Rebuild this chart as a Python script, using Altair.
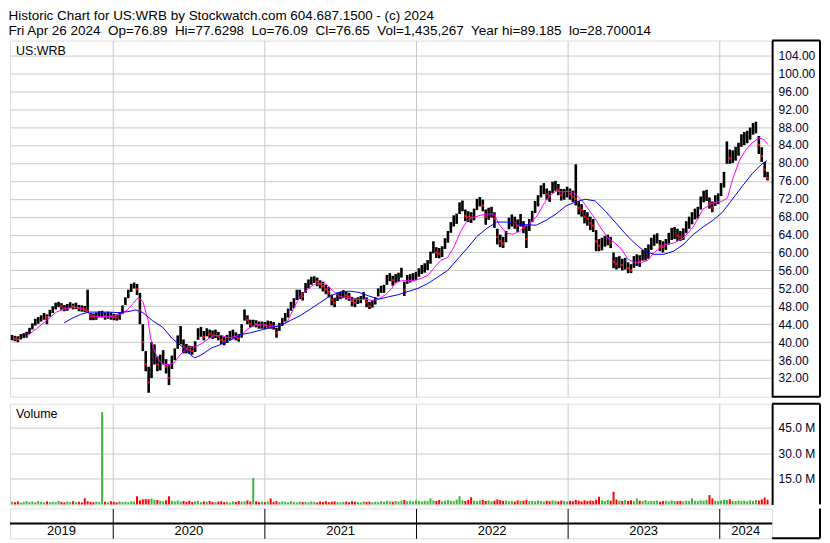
import altair as alt
import pandas as pd
import numpy as np

# ---------------- data ----------------
first_week = "2019-05-03"          # weekly bars, Fridays
x_start = (2019, 4, 28)
x_end = (2024, 5, 7)

closes = [
    41.0, 40.8, 40.6, 41.2, 41.5, 41.5, 42.5, 43.5, 44.5, 44.8,
    45.3, 45.8, 45.5, 46.5, 47.2, 48.2, 48.5, 48.0, 47.6, 47.8,
    48.3, 48.0, 48.2, 47.6, 47.5, 47.4, 47.0, 45.7, 45.6, 45.8,
    46.2, 46.3, 45.8, 46.0, 45.8, 45.6, 45.5, 45.8, 47.3, 49.2,
    50.8, 52.2, 53.0, 51.8, 47.0, 40.0, 35.0, 31.0, 36.0, 37.5,
    35.0, 35.5, 36.5, 34.5, 32.0, 35.5, 37.5, 40.0, 41.5, 39.0,
    38.5, 38.2, 38.0, 39.0, 41.8, 42.3, 41.2, 42.3, 41.8, 41.5,
    41.8, 41.3, 40.5, 40.2, 40.6, 41.5, 41.8, 41.2, 40.8, 43.0,
    46.0, 45.0, 44.0, 44.2, 44.0, 43.8, 43.8, 43.7, 44.0, 43.8,
    43.6, 42.0, 43.5, 44.5, 45.5, 46.5, 48.0, 48.8, 50.5, 50.8,
    50.2, 52.0, 53.0, 53.8, 54.2, 53.5, 53.0, 52.5, 51.8, 51.2,
    49.5, 48.8, 50.2, 50.5, 50.8, 50.4, 50.2, 49.2, 48.8, 49.3,
    49.5, 50.5, 49.0, 48.0, 48.5, 49.2, 51.0, 51.8, 51.8, 54.0,
    54.6, 53.8, 54.2, 54.5, 55.6, 51.5, 54.0, 54.3, 54.5, 54.8,
    55.5, 56.2, 56.5, 57.2, 59.0, 61.5, 60.0, 59.8, 60.2, 62.0,
    63.5, 65.5, 67.0, 67.5, 70.0, 70.5, 68.2, 68.0, 67.8, 68.5,
    70.8, 71.5, 70.5, 68.0, 68.5, 69.0, 67.5, 63.5, 62.5, 62.0,
    63.5, 66.5, 67.0, 66.5, 66.0, 67.0, 65.5, 63.0, 66.0, 68.0,
    70.0, 71.5, 73.5, 74.2, 73.0, 72.5, 74.5, 75.0, 74.0, 72.8,
    73.0, 73.5, 73.0, 72.5, 72.0, 70.0, 69.5, 68.0, 67.5, 66.5,
    66.0, 62.5, 61.5, 61.8, 62.5, 62.8, 62.2, 58.0, 57.5, 57.8,
    57.2, 57.5, 56.5, 56.0, 57.8, 58.2, 58.0, 59.5, 59.6, 60.0,
    62.0, 62.8, 63.2, 61.5, 61.2, 61.8, 63.0, 64.0, 64.2, 63.8,
    63.5, 64.0, 65.5, 66.5, 67.5, 68.5, 68.8, 71.0, 72.5, 72.8,
    71.0, 70.0, 71.5, 72.0, 74.0, 76.5, 82.5, 81.0, 81.2, 82.0,
    83.0, 85.0, 85.5, 85.8, 86.5, 87.5, 88.0, 84.0, 81.5, 78.5,
    76.65,
]
lows = [
    40.4, 40.2, 40.0, 40.6, 40.9, 41.0, 41.8, 42.8, 43.7, 44.1,
    44.6, 45.0, 44.0, 45.7, 46.5, 47.3, 47.8, 47.2, 46.9, 47.0,
    47.6, 47.3, 47.4, 46.9, 46.8, 46.7, 46.5, 44.9, 44.9, 45.0,
    45.5, 45.5, 45.0, 45.2, 45.0, 44.9, 44.8, 45.0, 46.3, 48.3,
    49.8, 51.2, 52.0, 50.5, 44.0, 38.0, 33.5, 28.7, 32.0, 35.0,
    33.5, 33.7, 35.0, 33.0, 30.4, 34.0, 36.0, 38.5, 39.5, 37.5,
    37.5, 37.4, 37.2, 37.8, 40.5, 41.2, 40.4, 41.3, 40.9, 40.7,
    40.9, 40.4, 39.6, 39.3, 39.8, 40.5, 40.8, 40.4, 40.1, 41.0,
    44.8, 44.0, 43.3, 43.5, 43.3, 43.0, 43.0, 42.9, 43.2, 43.0,
    42.8, 41.0, 42.5, 43.6, 44.6, 45.5, 47.0, 47.6, 49.4, 49.6,
    49.3, 51.0, 52.0, 52.8, 53.2, 52.5, 52.0, 51.3, 50.7, 50.0,
    48.2, 47.8, 49.2, 49.6, 49.8, 49.5, 49.2, 48.0, 47.8, 48.5,
    48.7, 49.6, 47.8, 47.4, 47.7, 48.4, 50.2, 51.0, 51.0, 52.8,
    53.6, 52.6, 53.2, 53.5, 54.4, 50.3, 53.0, 53.3, 53.6, 53.9,
    54.6, 55.2, 55.5, 56.1, 57.5, 59.8, 58.8, 58.7, 59.0, 60.8,
    62.2, 64.4, 65.8, 66.4, 68.6, 69.2, 67.0, 66.8, 66.6, 67.2,
    69.5, 70.3, 69.2, 66.2, 67.3, 67.8, 65.5, 61.8, 61.2, 61.0,
    62.3, 65.2, 65.8, 65.3, 64.6, 65.8, 64.3, 61.0, 64.8, 66.8,
    68.8, 70.3, 72.3, 73.0, 71.8, 71.3, 73.3, 73.8, 72.8, 71.6,
    71.8, 72.3, 71.8, 71.3, 70.5, 68.5, 68.0, 66.5, 66.0, 65.0,
    64.6, 60.3, 60.3, 60.5, 61.3, 61.6, 61.0, 56.5, 56.2, 56.5,
    56.0, 56.2, 55.4, 55.4, 56.6, 57.0, 56.8, 58.2, 58.2, 58.6,
    60.6, 61.5, 62.0, 60.3, 60.0, 60.6, 61.8, 62.8, 63.0, 62.6,
    62.6, 62.8, 64.3, 65.3, 66.3, 67.4, 67.6, 69.6, 71.2, 71.5,
    69.8, 69.0, 70.4, 70.8, 72.6, 74.5, 79.8, 79.8, 80.0, 80.5,
    81.6, 83.6, 84.0, 84.4, 85.2, 86.3, 86.6, 82.0, 80.2, 76.8,
    76.1,
]
highs = [
    41.6, 41.4, 41.3, 41.8, 42.0, 42.3, 43.2, 44.2, 45.2, 45.6,
    46.0, 46.5, 46.2, 47.2, 48.0, 48.8, 49.0, 48.7, 48.3, 48.5,
    48.9, 48.6, 48.8, 48.3, 48.2, 48.1, 51.7, 46.5, 46.4, 46.6,
    46.9, 47.0, 46.6, 46.8, 46.6, 46.3, 46.2, 46.7, 48.2, 50.0,
    51.7, 53.0, 53.3, 53.0, 51.0, 44.0, 38.0, 34.5, 40.0, 39.5,
    36.8, 37.2, 38.2, 36.2, 35.0, 37.0, 38.6, 41.5, 43.6, 40.6,
    39.6, 39.2, 39.1, 40.2, 43.1, 43.4, 42.5, 43.1, 42.8, 42.6,
    42.8, 42.3, 41.6, 41.2, 41.6, 42.5, 42.8, 42.2, 41.8, 44.0,
    47.3, 46.0, 45.0, 45.0, 44.9, 44.6, 44.6, 44.5, 44.8, 44.7,
    44.5, 43.2, 44.3, 45.4, 46.5, 47.5, 49.0, 49.8, 51.7, 51.7,
    51.2, 53.2, 54.0, 54.6, 54.7, 54.4, 53.8, 53.5, 52.8, 52.3,
    50.6, 49.9, 51.1, 51.3, 51.6, 51.3, 51.0, 50.1, 49.8, 50.0,
    50.3, 51.2, 50.0, 49.0, 49.4, 50.0, 52.0, 52.6, 52.8, 55.0,
    55.4, 54.8, 55.2, 55.5, 56.6, 53.5, 55.0, 55.2, 55.4, 55.7,
    56.5, 57.2, 57.6, 58.3, 60.2, 62.5, 61.2, 61.0, 61.4, 63.2,
    64.8, 66.8, 68.3, 68.7, 71.2, 71.6, 69.6, 69.2, 69.0, 69.8,
    72.0, 72.4, 71.8, 69.6, 70.0, 70.2, 69.0, 65.3, 64.0, 63.5,
    64.8, 67.8, 68.5, 68.0, 67.4, 68.6, 67.0, 66.0, 67.5, 69.3,
    71.5, 72.8, 75.0, 75.5, 74.3, 73.8, 75.8, 76.0, 75.3, 74.2,
    74.2, 74.7, 74.3, 73.8, 79.7, 71.5, 70.8, 69.5, 69.0, 68.0,
    67.5, 65.0, 63.0, 63.3, 63.7, 64.0, 63.5, 60.0, 59.0, 59.2,
    58.6, 58.8, 57.8, 57.4, 59.2, 59.6, 59.4, 60.6, 61.0, 61.8,
    63.3, 64.0, 64.3, 62.8, 62.5, 63.0, 64.4, 65.5, 65.7, 65.3,
    64.8, 65.4, 67.0, 68.0, 69.0, 69.8, 70.2, 72.5, 73.8, 74.0,
    72.3, 71.4, 72.8, 73.2, 75.5, 78.0, 84.8, 83.0, 82.8, 83.6,
    84.5, 86.4, 86.9, 87.2, 87.9, 88.9, 89.2, 86.0, 83.5, 80.2,
    78.0,
]
volumes_m = [
    1.6, 1.3, 1.8, 1.2, 1.5, 1.9, 1.4, 1.7, 1.3, 2.0,
    1.5, 1.2, 1.8, 1.4, 1.6, 1.3, 2.1, 1.5, 1.2, 1.7,
    1.4, 1.9, 1.3, 1.6, 1.2, 3.6, 1.8, 1.5, 1.3, 1.7,
    1.4, 54.0, 1.6, 1.3, 1.9, 1.5, 1.2, 1.8, 1.4, 1.6,
    1.3, 1.9, 1.7, 4.8, 2.4, 3.0, 3.2, 3.0, 3.5, 2.8,
    2.6, 2.2, 1.9, 2.4, 4.8, 2.1, 1.8, 2.3, 1.7, 2.0,
    1.6, 2.2, 1.5, 1.9, 2.1, 1.4, 1.8, 1.6, 2.0, 1.5,
    1.3, 1.7, 1.9, 1.4, 1.6, 1.2, 1.8, 1.5, 2.0, 1.6,
    1.9, 2.4, 1.7, 15.5, 1.8, 1.4, 1.6, 1.3, 1.7, 3.5,
    1.5, 2.0, 1.4, 1.8, 1.6, 1.3, 1.9, 1.5, 1.2, 1.7,
    1.4, 1.6, 1.3, 1.8, 1.5, 1.2, 1.7, 1.4, 1.9, 1.3,
    1.6, 1.8, 1.4, 1.2, 1.5, 1.7, 1.3, 1.9, 1.6, 1.4,
    1.2, 1.8, 1.5, 1.7, 1.3, 1.6, 1.4, 1.9, 1.5, 2.2,
    1.8, 1.6, 2.0, 1.7, 2.3, 2.6, 1.9, 2.1, 1.8, 2.4,
    2.0, 1.7, 2.2, 1.9, 3.5, 2.3, 2.0, 2.6, 1.8, 2.2,
    2.5, 2.1, 1.9, 2.8, 4.8, 2.4, 2.0, 2.6, 4.2, 2.2,
    1.9, 2.3, 2.6, 2.0, 2.4, 1.8, 2.2, 2.9, 2.5, 2.1,
    2.3, 1.9, 2.1, 1.7, 2.4, 2.0, 2.2, 2.7, 1.9, 2.1,
    1.8, 2.3, 2.0, 1.7, 2.2, 1.9, 2.4, 2.1, 1.8, 2.3,
    2.0, 1.7, 2.1, 1.9, 2.6, 2.2, 1.8, 2.4, 2.0, 2.3,
    2.1, 2.7, 4.5, 2.4, 2.0, 2.6, 2.2, 7.4, 2.8, 2.3,
    2.0, 2.5, 2.1, 2.4, 1.9, 3.5, 2.2, 2.0, 2.6, 1.8,
    2.1, 1.9, 2.3, 1.7, 2.0, 2.2, 1.8, 2.4, 2.0, 1.9,
    2.1, 1.8, 2.3, 2.0, 3.5, 2.2, 1.9, 2.4, 2.1, 2.6,
    5.5, 3.5, 2.2, 2.0, 2.4, 2.8, 2.6, 3.0, 2.1, 1.9,
    2.3, 2.0, 2.2, 1.8, 2.4, 2.1, 2.6, 2.3, 2.9, 4.0,
    2.7,
]

# moving averages, sampled at (fractional) week numbers after first_week
ma_fast_week = [
    5.0, 8.4, 11.8, 15.2, 18.6, 22.0, 24.7, 27.4, 30.7, 34.1, 37.5, 39.9, 41.6, 43.3,
    45.0, 46.7, 47.7, 49.0, 50.7, 52.4, 54.1, 55.8, 57.5, 59.2, 60.9, 62.9, 65.3, 67.6,
    69.7, 72.0, 74.4, 76.4, 78.8, 81.2, 83.2, 86.2, 88.9, 92.3, 94.7, 96.7, 99.1, 101.5,
    103.5, 105.9, 108.2, 110.2, 112.6, 115.0, 117.0, 119.4, 121.7, 123.8, 126.2, 128.5,
    130.6, 131.9, 134.0, 136.3, 138.7, 140.7, 143.1, 145.4, 147.5, 149.9, 152.2, 154.3,
    156.7, 159.0, 161.1, 163.4, 165.8, 167.8, 170.2, 172.6, 174.6, 176.0, 178.0, 180.4,
    182.7, 184.8, 187.2, 189.5, 191.6, 193.9, 196.3, 198.3, 200.7, 203.1, 205.1, 207.5,
    209.8, 211.9, 214.2, 216.6, 218.6, 221.0, 224.3, 227.7, 231.0, 234.4, 237.8, 241.2,
    244.5, 246.2, 247.9, 250.3, 252.3, 254.7, 257.1, 258.8, 260.1,
]
ma_fast_val = [
    41.3, 43.0, 44.8, 46.7, 47.5, 47.8, 47.3, 45.9, 45.7, 45.7, 46.2, 47.3, 48.6, 49.9,
    49.1, 45.2, 40.8, 38.0, 35.8, 35.0, 35.0, 35.4, 36.9, 38.0, 38.9, 38.9, 39.7, 40.8,
    41.5, 41.5, 41.0, 41.2, 41.5, 43.0, 43.7, 44.1, 43.4, 43.7, 44.5, 47.3, 50.2, 51.7,
    52.7, 53.2, 52.9, 51.6, 50.2, 49.9, 49.6, 49.5, 49.6, 49.3, 49.6, 50.6,
    51.9, 53.2, 53.7, 53.7, 53.8, 54.2, 54.9, 56.7, 58.2, 58.9, 61.4, 64.6,
    67.2, 67.9, 68.3, 68.6, 68.6, 66.1, 64.3, 64.1, 64.7, 65.7, 66.4, 67.9,
    70.5, 72.6, 73.7, 73.5, 73.7, 73.0, 71.5, 69.7, 67.5, 65.0, 63.2, 62.1,
    60.7, 58.5, 57.8, 57.8, 58.2, 60.0, 61.8, 62.1, 63.2, 65.7, 69.7, 71.1,
    71.5, 72.2, 76.2, 80.5, 82.7, 84.5, 85.6, 85.2, 84.1,
]
ma_slow_week = [
    17.9, 20.6, 23.6, 26.4, 29.7, 33.1, 36.5, 39.9, 42.6, 45.0, 48.3, 51.7, 55.1, 58.5,
    61.9, 62.9, 65.3, 68.6, 72.0, 75.4, 78.8, 82.2, 86.2, 88.9, 92.3, 95.7, 99.1, 102.5,
    105.9, 109.2, 112.6, 116.0, 119.4, 122.8, 126.2, 129.5, 132.9, 136.3, 139.7, 143.1,
    146.4, 149.9, 153.3, 156.7, 160.0, 163.4, 166.8, 170.2, 173.6, 177.0, 180.4, 183.8,
    187.2, 190.6, 193.9, 197.3, 200.7, 204.1, 207.5, 210.9, 214.2, 217.6, 221.0, 224.3,
    227.7, 231.0, 234.4, 237.8, 241.2, 244.5, 247.9, 251.3, 254.7, 258.1, 259.8,
]
ma_slow_val = [
    44.3, 45.3, 46.2, 46.7, 46.7, 46.7, 46.6, 46.8, 47.2, 46.6, 44.8, 43.4, 40.8, 39.0,
    36.9, 36.5, 37.2, 38.7, 39.5, 40.5, 41.7, 42.1, 42.8, 43.2, 43.7, 44.8, 45.9, 47.3,
    48.8, 50.2, 51.1, 51.4, 51.1, 50.3, 49.6, 50.1, 50.6, 51.3, 52.0, 53.1,
    54.5, 56.0, 58.5, 61.0, 63.6, 65.4, 66.8, 66.8, 66.4, 66.2, 66.1, 67.2,
    68.6, 70.4, 71.3, 71.9, 71.5, 69.3, 66.8, 64.3, 62.1, 60.3, 59.6, 59.6,
    60.3, 61.8, 64.0, 65.7, 67.2, 69.0, 71.9, 74.8, 77.6, 79.8, 80.5,
]

years = [2019, 2020, 2021, 2022, 2023, 2024]
price_ticks = list(range(32, 105, 4))
vol_ticks = [15, 30, 45]

title_line1 = "Historic Chart for US:WRB by Stockwatch.com 604.687.1500 - (c) 2024"
title_line2 = ("Fri Apr 26 2024  Op=76.89  Hi=77.6298  Lo=76.09  Cl=76.65  "
               "Vol=1,435,267  Year hi=89.185  lo=28.700014").replace("  ", " \u00a0")

# ---------------- frames ----------------
t0 = pd.Timestamp(first_week)
dates = pd.date_range(first_week, periods=len(closes), freq="7D")
fmt = "%Y-%m-%dT%H:%M:%S"
df = pd.DataFrame({"date": dates.strftime(fmt), "lo": lows, "hi": highs,
                   "cl": closes, "vol": volumes_m})
prev = pd.Series(closes).shift(1).fillna(closes[0])
df["dir"] = np.where(pd.Series(closes) >= prev, "up", "down")

def ma_frame(weeks, vals):
    d = t0 + pd.to_timedelta(np.array(weeks) * 7, unit="D")
    return pd.DataFrame({"date": d.strftime(fmt), "v": vals})

ma_fast = ma_frame(ma_fast_week, ma_fast_val)
ma_slow = ma_frame(ma_slow_week, ma_slow_val)

xs = pd.Timestamp(*x_start)
xe = pd.Timestamp(*x_end)
ystarts = [max(xs, pd.Timestamp(y, 1, 1)) for y in years]
yends = [min(xe, pd.Timestamp(y + 1, 1, 1)) for y in years]
mids = [a + (b - a) / 2 for a, b in zip(ystarts, yends)]
year_df = pd.DataFrame({"year": [str(y) for y in years],
                        "mid": [m.strftime(fmt) for m in mids]})

W = 764
AXW = 48           # width of the right-hand label strip
H_PRICE = 357
H_VOL = 101
H_BOT = 30
FONT = "Liberation Sans"
GRID = "#c8c8c8"
LABEL = "#00002a"

xdom = [alt.DateTime(year=x_start[0], month=x_start[1], date=x_start[2]),
        alt.DateTime(year=x_end[0], month=x_end[1], date=x_end[2])]
year_lines = [alt.DateTime(year=y, month=1, date=1) for y in years[1:]]
xscale = alt.Scale(domain=xdom)

x_grid_axis = alt.Axis(values=year_lines, grid=True, gridColor=GRID, labels=False,
                       ticks=False, domain=False, title=None)

one = pd.DataFrame({"a": [0]})

def hline(y, x0, x1, w=2):
    return alt.Chart(one).mark_rule(color="black", strokeWidth=w).encode(
        x=alt.value(x0), x2=alt.value(x1), y=alt.value(y))

def vline(x, y0, y1, w=2):
    return alt.Chart(one).mark_rule(color="black", strokeWidth=w).encode(
        x=alt.value(x), y=alt.value(y0), y2=alt.value(y1))

# ---------------- price panel ----------------
pscale = alt.Scale(domain=[27.82, 107.31], nice=False, zero=False)
p_axis = alt.Axis(orient="right", values=price_ticks, format=".2f", grid=True,
                  gridColor=GRID, tickSize=0, labelPadding=6, labelFont=FONT,
                  labelFontSize=12, labelColor=LABEL, labelOverlap=False,
                  labelBound=False, domain=True, domainColor="black",
                  domainWidth=2, title=None)

PX = alt.X("date:T", scale=xscale, axis=x_grid_axis)

base = alt.Chart(df)
bars = base.mark_rule(color="black", strokeWidth=2.6).encode(
    x=PX,
    y=alt.Y("lo:Q", scale=pscale, axis=p_axis),
    y2="hi:Q",
)
closes_pts = base.transform_filter(alt.datum.dir == "down").mark_square(
    color="#ff0000", size=5, opacity=1).encode(
    x=PX,
    y=alt.Y("cl:Q", scale=pscale, axis=p_axis),
)
fast_line = alt.Chart(ma_fast).mark_line(color="#ff00ff", strokeWidth=1).encode(
    x=PX, y=alt.Y("v:Q", scale=pscale, axis=p_axis))
slow_line = alt.Chart(ma_slow).mark_line(color="#0000ff", strokeWidth=1).encode(
    x=PX, y=alt.Y("v:Q", scale=pscale, axis=p_axis))
sym = alt.Chart(pd.DataFrame({"t": ["US:WRB"]})).mark_text(
    align="left", baseline="top", font=FONT, fontSize=12.5, color="black").encode(
    text="t:N", x=alt.value(6), y=alt.value(4))

price = alt.layer(
    bars, closes_pts, fast_line, slow_line, sym,
    hline(0, W, W + AXW), hline(H_PRICE, W, W + AXW), vline(W + AXW, 0, H_PRICE),
).properties(width=W, height=H_PRICE)

# ---------------- volume panel ----------------
vscale = alt.Scale(domain=[0, 59], nice=False)
v_axis = alt.Axis(orient="right", values=vol_ticks, grid=True, gridColor=GRID,
                  tickSize=0, labelPadding=6, labelFont=FONT, labelFontSize=12,
                  labelColor=LABEL, labelOverlap=False,
                  labelExpr="format(datum.value, '.1f') + ' M'",
                  domain=True, domainColor="black", domainWidth=2, title=None)
vol_bars = base.mark_rule(strokeWidth=2).encode(
    x=PX,
    y=alt.Y("vol:Q", scale=vscale, axis=v_axis),
    y2=alt.datum(0),
    color=alt.Color("dir:N", scale=alt.Scale(domain=["up", "down"],
                                             range=["#3cb43c", "#ff0000"]), legend=None),
)
vol_label = alt.Chart(pd.DataFrame({"t": ["Volume"]})).mark_text(
    align="left", baseline="top", font=FONT, fontSize=12.5, color="black").encode(
    text="t:N", x=alt.value(6), y=alt.value(4))
volume = alt.layer(
    vol_bars, vol_label,
    hline(0, W, W + AXW), vline(W + AXW, 0, H_VOL),
).properties(width=W, height=H_VOL)

# ---------------- year band ----------------
bot_axis = alt.Axis(values=year_lines, grid=True, gridColor="black", gridWidth=1,
                    labels=False, ticks=False, domain=False, title=None)
year_text = alt.Chart(year_df).mark_text(font=FONT, fontSize=13, color="black",
                                         baseline="middle").encode(
    x=alt.X("mid:T", scale=xscale, axis=bot_axis),
    y=alt.value(23),
    text="year:N",
)
band = alt.layer(
    year_text, hline(15, 0, W),
    hline(H_BOT, W, W + AXW), vline(W + AXW, 0, H_BOT),
).properties(width=W, height=H_BOT)

lower = alt.vconcat(volume, band, spacing=0)

chart = alt.vconcat(price, lower, spacing=3).properties(
    padding=0,
    title=alt.TitleParams(text=title_line1, subtitle=title_line2, anchor="start",
                          font=FONT, fontSize=13.5, fontWeight="normal", color="black",
                          subtitleFont=FONT, subtitleFontSize=13.5, subtitleColor="black",
                          subtitlePadding=1, offset=2),
).configure_view(stroke="black", strokeWidth=2).configure(background="white")

chart.save("out.html", embed_options={"renderer": "svg", "actions": False})
